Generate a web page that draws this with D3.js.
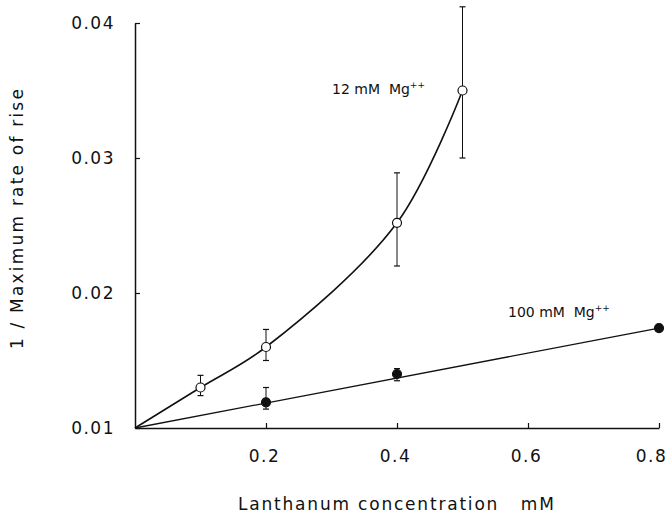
<!DOCTYPE html>
<html>
<head>
<meta charset="utf-8">
<script src="https://cdn.jsdelivr.net/npm/d3@7"></script>
<style>
  body { margin: 0; background: #fff; }
  svg text { font-family: "DejaVu Sans", sans-serif; fill: #111; }
</style>
</head>
<body>
<div id="chart"></div>
<script>
// data
var xTicks = [0.2, 0.4, 0.6, 0.8];
var yTicks = [0.01, 0.02, 0.03, 0.04];

// 12 mM Mg++ (open circles)
var lowMgX   = [0.1, 0.2, 0.4, 0.5];
var lowMgY   = [0.0130, 0.0160, 0.0252, 0.0350];
var lowMgLo  = [0.0124, 0.0150, 0.0220, 0.0300];
var lowMgHi  = [0.0139, 0.0173, 0.0289, 0.0412];

// 100 mM Mg++ (filled circles)
var highMgX  = [0.2, 0.4, 0.8];
var highMgY  = [0.0119, 0.0140, 0.0174];
var highMgLo = [0.0114, 0.0135, 0.0174];
var highMgHi = [0.0130, 0.0144, 0.0174];

// both fitted curves start at the origin
var origin = { x: 0, y: 0.01 };

function toPoints(xs, ys, lo, hi) {
  var pts = [];
  xs.forEach(function (x, i) {
    pts.push({ x: x, y: ys[i], lo: lo[i], hi: hi[i] });
  });
  return pts;
}

var lowMg = toPoints(lowMgX, lowMgY, lowMgLo, lowMgHi);
var highMg = toPoints(highMgX, highMgY, highMgLo, highMgHi);

var width = 666, height = 517;
var svg = d3.select("#chart").append("svg")
  .attr("width", width)
  .attr("height", height);

var xScale = d3.scaleLinear().domain([0, 0.8]).range([135, 659]);
var yScale = d3.scaleLinear().domain([0.01, 0.04]).range([428, 23]);

// x axis, ticks pointing up
var xAxis = d3.axisBottom(xScale)
  .tickValues(xTicks)
  .tickFormat(d3.format(".1f"))
  .tickSizeInner(-5)
  .tickSizeOuter(0)
  .tickPadding(22);
var gx = svg.append("g")
  .attr("transform", "translate(0," + yScale(0.01) + ")")
  .call(xAxis);
gx.select(".domain").attr("stroke", "#111").attr("stroke-width", 1.5);
gx.selectAll(".tick line").attr("stroke", "#111").attr("stroke-width", 1.2);
gx.selectAll(".tick text")
  .style("font-size", "17px")
  .style("letter-spacing", "1.5px")
  .attr("dx", function (d, i) { return i === xTicks.length - 1 ? -8 : -2; });

// y axis, ticks pointing right
var yAxis = d3.axisLeft(yScale)
  .tickValues(yTicks)
  .tickFormat(d3.format(".2f"))
  .tickSizeInner(-5)
  .tickSizeOuter(0)
  .tickPadding(20);
var gy = svg.append("g")
  .attr("transform", "translate(" + xScale(0) + ",0)")
  .call(yAxis);
gy.select(".domain").attr("stroke", "#111").attr("stroke-width", 1.5);
gy.selectAll(".tick line").attr("stroke", "#111").attr("stroke-width", 1.2);
gy.selectAll(".tick text")
  .style("font-size", "17px")
  .style("letter-spacing", "1.5px");

// axis titles
svg.append("text")
  .attr("x", 238)
  .attr("y", 510)
  .style("font-size", "17px")
  .style("letter-spacing", "1.8px")
  .attr("xml:space", "preserve")
  .text("Lanthanum concentration   mM");

svg.append("text")
  .attr("transform", "translate(23,218) rotate(-90)")
  .style("text-anchor", "middle")
  .style("font-size", "17px")
  .style("letter-spacing", "2.2px")
  .text("1 / Maximum rate of rise");

// fitted curves
var line = d3.line()
  .x(function (d) { return xScale(d.x); })
  .y(function (d) { return yScale(d.y); });

svg.append("path")
  .datum([origin].concat(lowMg))
  .attr("d", line.curve(d3.curveCatmullRom.alpha(0.5)))
  .attr("fill", "none")
  .attr("stroke", "#111")
  .attr("stroke-width", 1.6);

svg.append("path")
  .datum([origin, highMg[highMg.length - 1]])
  .attr("d", line.curve(d3.curveLinear))
  .attr("fill", "none")
  .attr("stroke", "#111")
  .attr("stroke-width", 1.3);

// error bars and markers
function drawSeries(pts, filled) {
  var g = svg.append("g");
  var bars = g.selectAll(".err").data(pts.filter(function (d) { return d.hi > d.lo; }))
    .enter().append("g");
  bars.append("line")
    .attr("x1", function (d) { return xScale(d.x); })
    .attr("x2", function (d) { return xScale(d.x); })
    .attr("y1", function (d) { return yScale(d.lo); })
    .attr("y2", function (d) { return yScale(d.hi); })
    .attr("stroke", "#111").attr("stroke-width", 1);
  ["lo", "hi"].forEach(function (k) {
    bars.append("line")
      .attr("x1", function (d) { return xScale(d.x) - 3; })
      .attr("x2", function (d) { return xScale(d.x) + 3; })
      .attr("y1", function (d) { return yScale(d[k]); })
      .attr("y2", function (d) { return yScale(d[k]); })
      .attr("stroke", "#111").attr("stroke-width", 1.2);
  });
  g.selectAll("circle").data(pts).enter().append("circle")
    .attr("cx", function (d) { return xScale(d.x); })
    .attr("cy", function (d) { return yScale(d.y); })
    .attr("r", 4.5)
    .attr("fill", filled ? "#111" : "#fff")
    .attr("stroke", "#111")
    .attr("stroke-width", 1.2);
}
drawSeries(lowMg, false);
drawSeries(highMg, true);

// series labels
function seriesLabel(x, y, conc) {
  var t = svg.append("text")
    .attr("x", x)
    .attr("y", y)
    .style("font-size", "14px")
    .attr("xml:space", "preserve");
  t.append("tspan").text(conc + " mM  Mg");
  t.append("tspan").attr("dy", -6).style("font-size", "9px").text("++");
}
seriesLabel(332, 94, "12");
seriesLabel(508, 317, "100");
</script>
</body>
</html>
